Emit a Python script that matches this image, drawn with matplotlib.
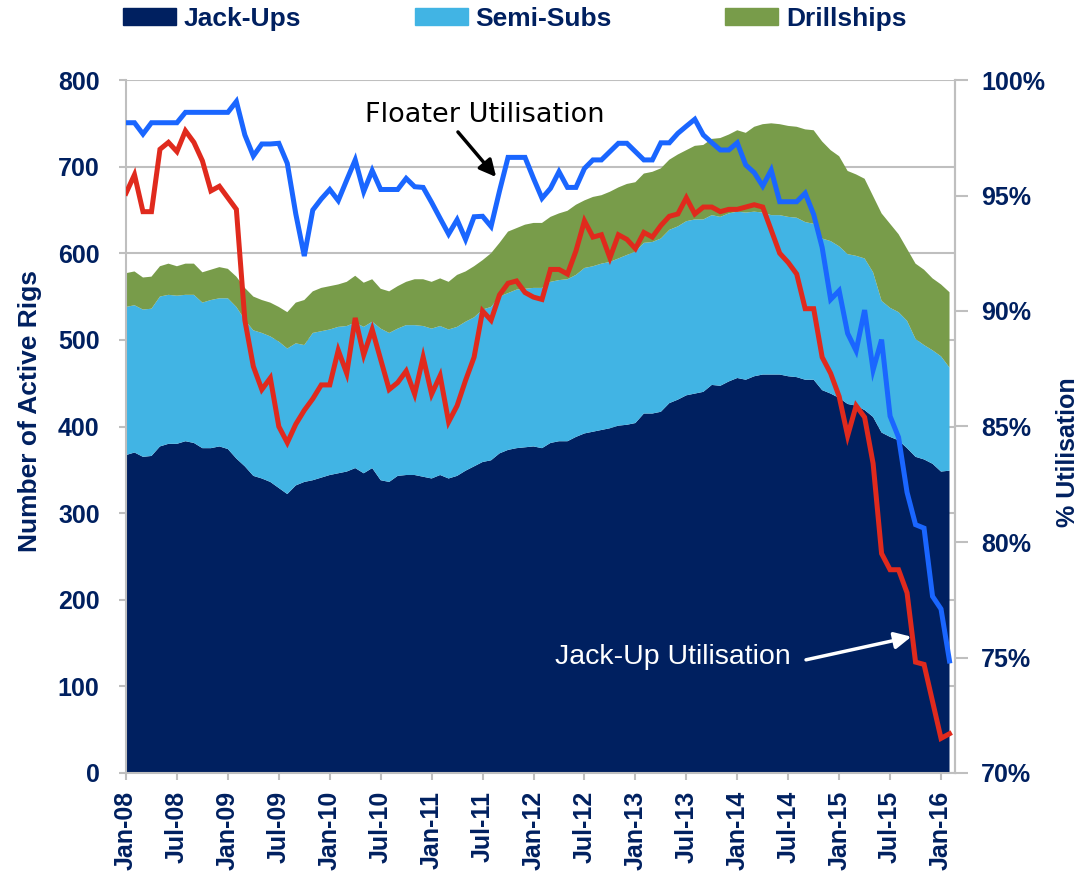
import numpy as np
import matplotlib
matplotlib.use("Agg")
import matplotlib.pyplot as plt
from matplotlib.patches import Patch

# monthly data, Jan-08 .. Feb-16
jackups = [367, 370, 365, 366, 377, 380, 380, 383, 381, 375, 375, 377, 374, 363, 354, 343, 340, 336, 329, 322,
           332, 336, 338, 341, 344, 346, 348, 352, 346, 352, 338, 336, 343, 344, 344, 342, 340, 344, 340, 343,
           349, 354, 359, 361, 369, 373, 375, 376, 377, 375, 381, 383, 383, 388, 392, 394, 396, 398, 401, 402,
           404, 415, 415, 417, 427, 431, 436, 438, 440, 448, 447, 452, 456, 454, 458, 460, 460, 460, 458, 457,
           454, 454, 442, 438, 433, 426, 424, 419, 411, 393, 388, 384, 375, 365, 362, 357, 348, 349]
semisubs = [171, 170, 170, 170, 173, 172, 171, 169, 171, 168, 171, 171, 174, 175, 169, 168, 168, 168, 169, 168,
            164, 158, 170, 169, 168, 169, 168, 168, 169, 169, 175, 172, 170, 173, 173, 174, 173, 172, 172, 172,
            172, 172, 176, 177, 181, 181, 183, 183, 183, 185, 186, 186, 187, 187, 191, 191, 192, 192, 193, 196,
            198, 197, 198, 200, 200, 200, 201, 201, 199, 196, 195, 194, 192, 193, 190, 187, 184, 184, 184, 184,
            182, 180, 175, 176, 175, 173, 173, 175, 167, 152, 149, 148, 147, 136, 132, 131, 133, 119]
drillships = [39, 39, 37, 37, 35, 36, 34, 36, 36, 35, 35, 36, 34, 35, 37, 39, 38, 39, 40, 42,
              47, 52, 48, 50, 50, 49, 51, 54, 51, 49, 46, 48, 49, 50, 53, 54, 54, 55, 55, 60,
              58, 59, 57, 62, 62, 71, 71, 74, 75, 75, 75, 77, 79, 81, 78, 80, 79, 81, 82, 82,
              80, 80, 81, 81, 81, 83, 82, 85, 86, 88, 91, 91, 94, 92, 98, 102, 106, 105, 105, 105,
              107, 108, 112, 105, 104, 96, 94, 92, 88, 101, 97, 90, 83, 87, 87, 83, 83, 87]

# utilisation %
floater_util = [98.15, 98.15, 97.66, 98.15, 98.15, 98.15, 98.15, 98.6, 98.6, 98.6, 98.6, 98.6, 98.6, 99.07,
                97.62, 96.71, 97.23, 97.23, 97.26, 96.39, 94.2, 92.38, 94.37, 94.85, 95.26, 94.78, 95.67, 96.54,
                95.17, 96.08, 95.26, 95.26, 95.26, 95.74, 95.38, 95.35, 94.7, 94.01, 93.33, 93.95, 93.1, 94.08,
                94.1, 93.66, 95.2, 96.65, 96.65, 96.65, 95.74, 94.88, 95.31, 96.03, 95.35, 95.35, 96.17, 96.54,
                96.54, 96.9, 97.26, 97.26, 96.9, 96.54, 96.54, 97.28, 97.28, 97.69, 98.0, 98.3, 97.62, 97.29,
                96.97, 96.97, 97.28, 96.32, 95.99, 95.41, 96.1, 94.73, 94.73, 94.73, 95.1, 94.18, 92.75, 90.5,
                90.88, 89.03, 88.28, 90.04, 87.45, 88.76, 85.45, 84.53, 82.15, 80.75, 80.6, 77.65, 77.1, 74.85]
jackup_util = [95.1, 95.9, 94.3, 94.3, 97.0, 97.3, 96.9, 97.8, 97.3, 96.5, 95.2, 95.4, 94.9, 94.4, 89.6, 87.6,
               86.6, 87.1, 85.0, 84.3, 85.1, 85.7, 86.2, 86.8, 86.8, 88.3, 87.3, 89.7, 88.1, 89.2, 87.9, 86.6,
               86.9, 87.4, 86.4, 88.0, 86.4, 87.2, 85.2, 85.9, 87.0, 88.0, 90.0, 89.6, 90.7, 91.2, 91.3, 90.8,
               90.6, 90.5, 91.8, 91.8, 91.6, 92.6, 93.9, 93.2, 93.3, 92.3, 93.3, 93.1, 92.7, 93.4, 93.2, 93.7,
               94.1, 94.2, 94.9, 94.2, 94.5, 94.5, 94.3, 94.4, 94.4, 94.5, 94.6, 94.5, 93.5, 92.5, 92.1, 91.6,
               90.1, 90.1, 88.0, 87.3, 86.3, 84.6, 85.9, 85.4, 83.4, 79.5, 78.8, 78.8, 77.8, 74.8, 74.7, 73.1,
               71.5, 71.7]

tick_labels = ['Jan-08', 'Jul-08', 'Jan-09', 'Jul-09', 'Jan-10', 'Jul-10', 'Jan-11', 'Jul-11', 'Jan-12',
               'Jul-12', 'Jan-13', 'Jul-13', 'Jan-14', 'Jul-14', 'Jan-15', 'Jul-15', 'Jan-16']

navy = '#002060'
grey = '#BFBFBF'
cols = ['#002060', '#41B4E4', '#789C4A']

months = np.arange(len(jackups))

fig = plt.figure(figsize=(10.84, 8.77), dpi=100)
ax = fig.add_axes([126 / 1084, 1 - 773 / 877, (954.6 - 126) / 1084, 693 / 877])
ax.set_axisbelow(True)
ax.stackplot(months, jackups, semisubs, drillships, colors=cols, linewidth=0)
ax.set_xlim(0, 97.6)
ax.set_ylim(0, 800)
ax.set_yticks(range(0, 801, 100))
ax.set_xticks(np.arange(0, 97, 6))
ax.set_xticklabels(tick_labels, rotation=90)
ax.yaxis.grid(True, color=grey, lw=1.5)
ax.spines['top'].set_visible(False)
for s in ['left', 'bottom', 'right']:
    ax.spines[s].set_color(grey)
    ax.spines[s].set_linewidth(1.5)
ax.tick_params(axis='y', length=5, width=1.5, color=grey, pad=14, labelsize=18, labelcolor=navy)
ax.tick_params(axis='x', length=5, width=1.5, color=grey, pad=8, labelsize=18, labelcolor=navy)
for lab in ax.get_xticklabels() + ax.get_yticklabels():
    lab.set_fontfamily('Liberation Sans')
    lab.set_fontweight('bold')
ax.set_ylabel('Number of Active Rigs', fontsize=19, fontweight='bold', color=navy,
              family='Liberation Sans')
ax.yaxis.set_label_coords(-0.101, 0.522)

# utilisation lines on the right axis
ax2 = ax.twinx()
ax2.plot(months, floater_util, color='#1A66FF', lw=3.6, solid_joinstyle='miter')
ax2.plot(months, jackup_util, color='#E02A1D', lw=3.6, solid_joinstyle='miter')
ax2.set_ylim(70, 100)
ax2.set_yticks(range(70, 101, 5))
ax2.set_yticklabels(['%d%%' % v for v in range(70, 101, 5)])
ax2.spines['top'].set_visible(False)
ax2.spines['right'].set_color(grey)
ax2.spines['right'].set_linewidth(1.5)
ax2.spines['left'].set_visible(False)
ax2.spines['bottom'].set_visible(False)
ax2.tick_params(axis='y', length=9, width=1.5, color=grey, pad=10, labelsize=18, labelcolor=navy)
for lab in ax2.get_yticklabels():
    lab.set_fontfamily('Liberation Sans')
    lab.set_fontweight('bold')
ax2.set_ylabel('% Utilisation', fontsize=18, fontweight='bold', color=navy,
               family='Liberation Sans')
ax2.yaxis.set_label_coords(1.122, 0.463)

# annotations
ax2.text(42.2, 98.5, 'Floater Utilisation', fontsize=19.5, family='DejaVu Sans',
         color='black', ha='center', va='center')
ax2.annotate('', xy=(43.6, 95.8), xytext=(39.1, 97.75),
             arrowprops=dict(arrowstyle='-|>', color='black', lw=2.5, mutation_scale=25,
                             shrinkA=0, shrinkB=0))
ax2.text(64.4, 75.0, 'Jack-Up Utilisation', fontsize=20.5, family='Liberation Sans',
         color='white', ha='center', va='center')
ax2.annotate('', xy=(92.5, 75.9), xytext=(80.1, 74.9),
             arrowprops=dict(arrowstyle='-|>', color='white', lw=2.5, mutation_scale=25,
                             shrinkA=0, shrinkB=0))

handles = [Patch(color=c) for c in cols]
fig.legend(handles, ['Jack-Ups', 'Semi-Subs', 'Drillships'], loc='center left',
           bbox_to_anchor=(110 / 1084, 1 - 19 / 877), ncol=3, frameon=False,
           prop={'family': 'Liberation Sans', 'weight': 'bold', 'size': 19}, labelcolor=navy,
           handlelength=2.0, handleheight=0.6, handletextpad=0.3, columnspacing=4.3, borderpad=0)

fig.savefig('out.png', dpi=100)
